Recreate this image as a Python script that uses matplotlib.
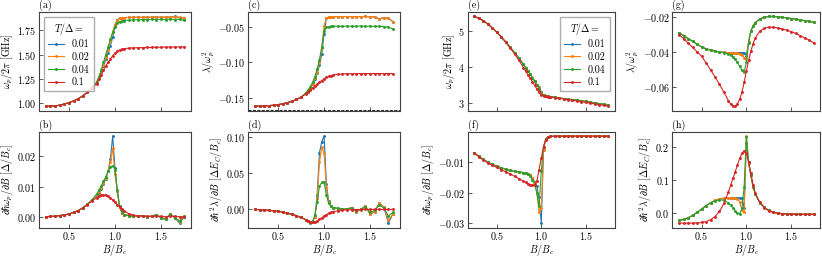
import numpy as np
import matplotlib
matplotlib.use("Agg")
import matplotlib.pyplot as plt

plt.rcParams["font.family"] = "serif"
plt.rcParams["font.serif"] = ["cmr10", "DejaVu Serif"]
plt.rcParams["mathtext.fontset"] = "cm"
plt.rcParams["axes.formatter.use_mathtext"] = True
plt.rcParams["font.size"] = 7.2

# magnetic field grid (denser around the transition)
B = [0.25, 0.30, 0.35, 0.40, 0.45, 0.50, 0.55, 0.60, 0.65, 0.70, 0.75, 0.80,
     0.825, 0.85, 0.875, 0.90, 0.925, 0.95, 0.975, 1.00, 1.025, 1.05, 1.075, 1.10,
     1.15, 1.20, 1.25, 1.30, 1.35, 1.40, 1.45, 1.50, 1.55, 1.60, 1.65, 1.70, 1.75]

temps = ["0.01", "0.02", "0.04", "0.1"]
colors = ["tab:blue", "tab:orange", "tab:green", "tab:red"]
lambda_limit = -0.1667

# (a) plasma frequency [GHz]
a01 = [0.965, 0.967, 0.970, 0.976, 0.988, 1.003, 1.020, 1.043, 1.072, 1.109, 1.155, 1.205,
       1.255, 1.315, 1.380, 1.450, 1.520, 1.590, 1.680, 1.800, 1.860, 1.875, 1.880, 1.882,
       1.884, 1.885, 1.886, 1.885, 1.887, 1.885, 1.889, 1.884, 1.888, 1.886, 1.894, 1.883, 1.877]
a02 = [0.965, 0.967, 0.970, 0.976, 0.988, 1.003, 1.020, 1.043, 1.072, 1.109, 1.155, 1.205,
       1.255, 1.320, 1.390, 1.470, 1.550, 1.640, 1.730, 1.810, 1.860, 1.875, 1.880, 1.882,
       1.884, 1.885, 1.886, 1.885, 1.887, 1.885, 1.889, 1.884, 1.888, 1.886, 1.893, 1.884, 1.878]
a04 = [0.965, 0.967, 0.970, 0.976, 0.988, 1.003, 1.020, 1.043, 1.072, 1.110, 1.158, 1.215,
       1.270, 1.340, 1.420, 1.500, 1.580, 1.660, 1.730, 1.790, 1.825, 1.840, 1.848, 1.852,
       1.856, 1.858, 1.860, 1.862, 1.861, 1.864, 1.862, 1.866, 1.862, 1.868, 1.862, 1.865, 1.853]
a10 = [0.965, 0.967, 0.970, 0.976, 0.988, 1.003, 1.020, 1.043, 1.072, 1.108, 1.152, 1.200,
       1.245, 1.290, 1.335, 1.380, 1.420, 1.455, 1.488, 1.515, 1.535, 1.548, 1.556, 1.561,
       1.566, 1.569, 1.571, 1.572, 1.573, 1.574, 1.575, 1.576, 1.577, 1.578, 1.578, 1.579, 1.580]

# (b) derivative of the plasma frequency
b01 = [0.0001, 0.0002, 0.0003, 0.0005, 0.0007, 0.0010, 0.0015, 0.0021, 0.0030, 0.0042, 0.0055, 0.0070,
       0.0080, 0.0093, 0.0108, 0.0125, 0.0150, 0.0190, 0.0265, 0.0160, 0.0085, 0.0033, 0.0014, 0.0008,
       0.0005, 0.0003, 0.0003, 0.0004, 0.0001, 0.0003, 0.0008, -0.0003, -0.0008, 0.0011, -0.0003, -0.0020, 0.0001]
b02 = [0.0001, 0.0002, 0.0003, 0.0005, 0.0007, 0.0010, 0.0015, 0.0021, 0.0030, 0.0042, 0.0055, 0.0070,
       0.0082, 0.0095, 0.0110, 0.0128, 0.0150, 0.0180, 0.0225, 0.0140, 0.0085, 0.0033, 0.0014, 0.0008,
       0.0005, 0.0003, 0.0003, 0.0004, 0.0001, 0.0003, 0.0008, -0.0003, -0.0007, 0.0010, -0.0003, -0.0015, 0.0002]
b04 = [0.0001, 0.0002, 0.0003, 0.0005, 0.0007, 0.0010, 0.0015, 0.0021, 0.0030, 0.0042, 0.0056, 0.0075,
       0.0088, 0.0102, 0.0117, 0.0132, 0.0150, 0.0165, 0.0168, 0.0155, 0.0090, 0.0035, 0.0015, 0.0008,
       0.0005, 0.0003, 0.0003, 0.0004, 0.0001, 0.0003, 0.0007, -0.0002, -0.0006, 0.0009, -0.0002, -0.0012, 0.0002]
b10 = [0.0001, 0.0002, 0.0003, 0.0005, 0.0007, 0.0010, 0.0015, 0.0021, 0.0030, 0.0041, 0.0053, 0.0063,
       0.0068, 0.0071, 0.0073, 0.0072, 0.0069, 0.0063, 0.0056, 0.0049, 0.0041, 0.0033, 0.0026, 0.0020,
       0.0011, 0.0006, 0.0004, 0.0003, 0.0003, 0.0002, 0.0003, 0.0002, 0.0001, 0.0003, 0.0002, 0.0001, 0.0001]

# (c) anharmonicity
c01 = [-0.1618, -0.1616, -0.1613, -0.1609, -0.1603, -0.1595, -0.1583, -0.1567, -0.1547, -0.1522, -0.1490, -0.1438,
       -0.1410, -0.1368, -0.1310, -0.1240, -0.1150, -0.1040, -0.0880, -0.0600, -0.0378, -0.0361, -0.0357, -0.0355,
       -0.0356, -0.0354, -0.0353, -0.0355, -0.0353, -0.0356, -0.0352, -0.0357, -0.0359, -0.0387, -0.0369, -0.0380, -0.0428]
c02 = [-0.1618, -0.1616, -0.1613, -0.1609, -0.1603, -0.1595, -0.1583, -0.1567, -0.1547, -0.1522, -0.1490, -0.1435,
       -0.1405, -0.1360, -0.1300, -0.1225, -0.1130, -0.1000, -0.0800, -0.0480, -0.0375, -0.0360, -0.0357, -0.0355,
       -0.0356, -0.0354, -0.0353, -0.0355, -0.0353, -0.0356, -0.0352, -0.0357, -0.0358, -0.0385, -0.0370, -0.0378, -0.0425]
c04 = [-0.1618, -0.1616, -0.1613, -0.1609, -0.1603, -0.1595, -0.1583, -0.1567, -0.1547, -0.1522, -0.1490, -0.1430,
       -0.1390, -0.1340, -0.1280, -0.1200, -0.1090, -0.0960, -0.0780, -0.0560, -0.0505, -0.0495, -0.0492, -0.0490,
       -0.0489, -0.0490, -0.0488, -0.0489, -0.0490, -0.0487, -0.0491, -0.0488, -0.0492, -0.0489, -0.0497, -0.0503, -0.0527]
c10 = [-0.1618, -0.1616, -0.1613, -0.1609, -0.1603, -0.1595, -0.1583, -0.1567, -0.1547, -0.1522, -0.1490, -0.1445,
       -0.1418, -0.1390, -0.1360, -0.1332, -0.1305, -0.1280, -0.1255, -0.1232, -0.1212, -0.1197, -0.1185, -0.1177,
       -0.1167, -0.1162, -0.1160, -0.1159, -0.1158, -0.1158, -0.1157, -0.1157, -0.1157, -0.1157, -0.1157, -0.1157, -0.1157]

# (d) derivative of the anharmonicity
d01 = [-0.0002, -0.0005, -0.0009, -0.0014, -0.0020, -0.0028, -0.0038, -0.0052, -0.0068, -0.0088, -0.0112, -0.0143,
       -0.0162, -0.0176, -0.0168, -0.0105, 0.0200, 0.0780, 0.0930, 0.1005, 0.0350, 0.0110, 0.0045, 0.0025,
       0.0010, 0.0000, 0.0005, 0.0025, -0.0030, -0.0005, 0.0050, -0.0070, -0.0030, 0.0090, 0.0030, -0.0190, -0.0060]
d02 = [-0.0002, -0.0005, -0.0009, -0.0014, -0.0020, -0.0028, -0.0038, -0.0052, -0.0068, -0.0088, -0.0112, -0.0143,
       -0.0162, -0.0176, -0.0168, -0.0100, 0.0150, 0.0650, 0.0850, 0.0780, 0.0300, 0.0100, 0.0045, 0.0025,
       0.0010, 0.0000, 0.0005, 0.0025, -0.0030, -0.0005, 0.0045, -0.0065, -0.0030, 0.0080, 0.0030, -0.0150, -0.0060]
d04 = [-0.0002, -0.0005, -0.0009, -0.0014, -0.0020, -0.0028, -0.0038, -0.0052, -0.0068, -0.0088, -0.0112, -0.0145,
       -0.0165, -0.0182, -0.0170, -0.0080, 0.0100, 0.0320, 0.0370, 0.0370, 0.0200, 0.0080, 0.0040, 0.0025,
       0.0015, 0.0005, 0.0005, 0.0020, -0.0020, 0.0000, 0.0035, -0.0040, -0.0015, 0.0055, 0.0020, -0.0090, -0.0040]
d10 = [-0.0002, -0.0005, -0.0009, -0.0014, -0.0020, -0.0028, -0.0038, -0.0052, -0.0068, -0.0088, -0.0112, -0.0140,
       -0.0158, -0.0172, -0.0178, -0.0172, -0.0158, -0.0138, -0.0115, -0.0092, -0.0072, -0.0055, -0.0043, -0.0033,
       -0.0019, -0.0011, -0.0007, -0.0004, -0.0003, -0.0002, -0.0001, -0.0001, -0.0001, -0.0001, -0.0001, -0.0001, -0.0001]

# (e) plasma frequency [GHz], second device
e01 = [5.41, 5.36, 5.29, 5.20, 5.09, 4.97, 4.84, 4.70, 4.55, 4.40, 4.24, 4.07,
       3.98, 3.89, 3.80, 3.70, 3.60, 3.50, 3.44, 3.30, 3.21, 3.188, 3.178, 3.168,
       3.147, 3.127, 3.112, 3.097, 3.082, 3.067, 3.047, 3.032, 3.012, 2.992, 2.972, 2.952, 2.932]
e02 = [5.41, 5.36, 5.29, 5.20, 5.09, 4.97, 4.84, 4.70, 4.55, 4.40, 4.24, 4.07,
       3.98, 3.89, 3.80, 3.70, 3.60, 3.50, 3.42, 3.27, 3.205, 3.187, 3.177, 3.167,
       3.147, 3.127, 3.112, 3.097, 3.082, 3.067, 3.047, 3.032, 3.012, 2.992, 2.972, 2.952, 2.932]
e04 = [5.41, 5.36, 5.29, 5.20, 5.09, 4.97, 4.84, 4.70, 4.55, 4.40, 4.24, 4.07,
       3.98, 3.89, 3.80, 3.70, 3.60, 3.49, 3.38, 3.25, 3.20, 3.185, 3.175, 3.165,
       3.145, 3.125, 3.11, 3.095, 3.08, 3.065, 3.045, 3.03, 3.01, 2.99, 2.97, 2.95, 2.93]
e10 = [5.41, 5.36, 5.29, 5.20, 5.09, 4.97, 4.84, 4.69, 4.53, 4.36, 4.18, 3.98,
       3.88, 3.78, 3.68, 3.58, 3.48, 3.38, 3.29, 3.22, 3.19, 3.175, 3.165, 3.155,
       3.14, 3.12, 3.10, 3.08, 3.06, 3.045, 3.025, 3.005, 2.985, 2.96, 2.94, 2.92, 2.895]

# (f)
f01 = [-0.0071, -0.0082, -0.0092, -0.0101, -0.0108, -0.0114, -0.0119, -0.0124, -0.0128, -0.0131, -0.0133, -0.0135,
       -0.0136, -0.0138, -0.0143, -0.0152, -0.0165, -0.0180, -0.0215, -0.0300, -0.0060, -0.0025, -0.0019, -0.0017,
       -0.0016, -0.0016, -0.0016, -0.0016, -0.0016, -0.0016, -0.0016, -0.0016, -0.0016, -0.0016, -0.0016, -0.0016, -0.0016]
f02 = [-0.0071, -0.0082, -0.0092, -0.0101, -0.0108, -0.0114, -0.0119, -0.0124, -0.0128, -0.0131, -0.0133, -0.0135,
       -0.0136, -0.0138, -0.0143, -0.0152, -0.0168, -0.0200, -0.0265, -0.0250, -0.0060, -0.0025, -0.0019, -0.0017,
       -0.0016, -0.0016, -0.0016, -0.0016, -0.0016, -0.0016, -0.0016, -0.0016, -0.0016, -0.0016, -0.0016, -0.0016, -0.0016]
f04 = [-0.0071, -0.0082, -0.0092, -0.0101, -0.0108, -0.0114, -0.0119, -0.0124, -0.0128, -0.0131, -0.0133, -0.0135,
       -0.0137, -0.0140, -0.0147, -0.0158, -0.0175, -0.0200, -0.0245, -0.0130, -0.0050, -0.0025, -0.0019, -0.0017,
       -0.0016, -0.0016, -0.0016, -0.0016, -0.0016, -0.0016, -0.0016, -0.0016, -0.0016, -0.0016, -0.0016, -0.0016, -0.0016]
f10 = [-0.0071, -0.0083, -0.0094, -0.0103, -0.0111, -0.0118, -0.0125, -0.0132, -0.0139, -0.0147, -0.0155, -0.0163,
       -0.0167, -0.0171, -0.0175, -0.0177, -0.0174, -0.0163, -0.0125, -0.0087, -0.0050, -0.0028, -0.0020, -0.0017,
       -0.0016, -0.0016, -0.0016, -0.0016, -0.0016, -0.0016, -0.0016, -0.0016, -0.0016, -0.0016, -0.0016, -0.0016, -0.0016]

# (g)
g01 = [-0.0290, -0.0305, -0.0322, -0.0338, -0.0355, -0.0370, -0.0381, -0.0389, -0.0395, -0.0399, -0.0402, -0.0403,
       -0.0403, -0.0403, -0.0403, -0.0403, -0.0403, -0.0404, -0.0405, -0.0420, -0.0340, -0.0278, -0.0249, -0.0230,
       -0.0210, -0.0199, -0.0195, -0.0195, -0.0197, -0.0200, -0.0203, -0.0207, -0.0211, -0.0215, -0.0219, -0.0223, -0.0228]
g02 = [-0.0290, -0.0305, -0.0322, -0.0338, -0.0355, -0.0370, -0.0381, -0.0389, -0.0395, -0.0399, -0.0402, -0.0404,
       -0.0405, -0.0406, -0.0407, -0.0408, -0.0410, -0.0415, -0.0432, -0.0440, -0.0340, -0.0278, -0.0249, -0.0230,
       -0.0210, -0.0199, -0.0195, -0.0195, -0.0197, -0.0200, -0.0203, -0.0207, -0.0211, -0.0215, -0.0219, -0.0223, -0.0228]
g04 = [-0.0290, -0.0305, -0.0322, -0.0338, -0.0355, -0.0370, -0.0381, -0.0389, -0.0395, -0.0399, -0.0403, -0.0410,
       -0.0418, -0.0428, -0.0442, -0.0460, -0.0482, -0.0505, -0.0515, -0.0460, -0.0345, -0.0280, -0.0250, -0.0230,
       -0.0210, -0.0199, -0.0195, -0.0195, -0.0197, -0.0200, -0.0203, -0.0207, -0.0211, -0.0215, -0.0219, -0.0223, -0.0228]
g10 = [-0.0299, -0.0323, -0.0348, -0.0373, -0.0398, -0.0423, -0.0462, -0.0502, -0.0543, -0.0585, -0.0632, -0.0680,
       -0.0700, -0.0712, -0.0712, -0.0697, -0.0672, -0.0632, -0.0575, -0.0510, -0.0448, -0.0395, -0.0352, -0.0318,
       -0.0280, -0.0263, -0.0257, -0.0257, -0.0261, -0.0267, -0.0274, -0.0282, -0.0293, -0.0305, -0.0318, -0.0332, -0.0347]

# (h)
h01 = [-0.0210, -0.0180, -0.0130, -0.0060, 0.0030, 0.0130, 0.0230, 0.0320, 0.0395, 0.0430, 0.0455, 0.0465,
       0.0467, 0.0467, 0.0466, 0.0465, 0.0463, 0.0460, 0.0150, 0.2100, 0.1500, 0.1150, 0.0800, 0.0580,
       0.0320, 0.0180, 0.0090, 0.0040, 0.0010, -0.0005, -0.0015, -0.0020, -0.0022, -0.0024, -0.0025, -0.0025, -0.0025]
h02 = [-0.0210, -0.0180, -0.0130, -0.0060, 0.0030, 0.0130, 0.0230, 0.0320, 0.0395, 0.0430, 0.0455, 0.0465,
       0.0465, 0.0462, 0.0455, 0.0430, 0.0350, 0.0100, 0.0040, 0.2320, 0.1500, 0.1150, 0.0800, 0.0580,
       0.0320, 0.0180, 0.0090, 0.0040, 0.0010, -0.0005, -0.0015, -0.0020, -0.0022, -0.0024, -0.0025, -0.0025, -0.0025]
h04 = [-0.0210, -0.0180, -0.0130, -0.0060, 0.0030, 0.0130, 0.0230, 0.0315, 0.0375, 0.0405, 0.0400, 0.0310,
       0.0250, 0.0170, 0.0080, 0.0000, -0.0010, 0.0150, 0.0800, 0.2300, 0.1550, 0.1150, 0.0800, 0.0580,
       0.0320, 0.0180, 0.0090, 0.0040, 0.0010, -0.0005, -0.0015, -0.0020, -0.0022, -0.0024, -0.0025, -0.0025, -0.0025]
h10 = [-0.0290, -0.0292, -0.0292, -0.0290, -0.0285, -0.0272, -0.0245, -0.0190, -0.0095, 0.0060, 0.0300, 0.0650,
       0.0850, 0.1050, 0.1250, 0.1450, 0.1650, 0.1800, 0.1880, 0.1820, 0.1550, 0.1200, 0.0850, 0.0600,
       0.0330, 0.0170, 0.0080, 0.0030, 0.0005, -0.0010, -0.0020, -0.0025, -0.0028, -0.0030, -0.0030, -0.0030, -0.0030]

ylab_w = r"$\omega_p/2\pi$ [GHz]"
ylab_dw = r"$\partial\hbar\omega_p/\partial B$ [$\Delta/B_c$]"
ylab_l = r"$\lambda/\omega_p^2$"
ylab_dl = r"$\partial\hbar^2\lambda/\partial B$ [$\Delta E_C/B_c$]"

panels = [
    ("(a)", [a01, a02, a04, a10], ylab_w, [1.00, 1.25, 1.50, 1.75]),
    ("(b)", [b01, b02, b04, b10], ylab_dw, [0.0, 0.01, 0.02]),
    ("(c)", [c01, c02, c04, c10], ylab_l, [-0.15, -0.10, -0.05]),
    ("(d)", [d01, d02, d04, d10], ylab_dl, [0.0, 0.05, 0.10]),
    ("(e)", [e01, e02, e04, e10], ylab_w, [3, 4, 5]),
    ("(f)", [f01, f02, f04, f10], ylab_dw, [-0.03, -0.02, -0.01]),
    ("(g)", [g01, g02, g04, g10], ylab_l, [-0.06, -0.04, -0.02]),
    ("(h)", [h01, h02, h04, h10], ylab_dl, [0.0, 0.1, 0.2]),
]

fig = plt.figure(figsize=(8.22, 2.6), dpi=100)
lefts = [0.0474, 0.302, 0.569, 0.818]
widths = [0.185, 0.1845, 0.179, 0.180]
rows = [(0.574, 0.380), (0.125, 0.368)]

axes = []
for k, (tag, series, ylab, yt) in enumerate(panels):
    col, row = k // 2, k % 2
    ax = fig.add_axes([lefts[col], rows[row][0], widths[col], rows[row][1]])
    for y, c, t in zip(series, colors, temps):
        ax.plot(B, y, ".-", color=c, lw=0.8, ms=2.2, label=t)
    ax.set_xticks([0.5, 1.0, 1.5])
    ax.set_yticks(yt)
    ax.set_ylabel(ylab, labelpad=1)
    if row == 0:
        ax.set_xticklabels([])
    else:
        ax.set_xlabel(r"$B/B_c$", labelpad=0)
    ax.tick_params(direction="in", length=3, width=0.6, color="0.25", pad=2)
    for s in ax.spines.values():
        s.set_color("0.25")
        s.set_linewidth(0.8)
    ax.text(0.0, 1.01, tag, transform=ax.transAxes, ha="left", va="bottom")
    axes.append(ax)

axes[2].axhline(lambda_limit, color="k", ls="--", lw=0.6)

for ax, loc in [(axes[0], "upper left"), (axes[4], "upper right")]:
    leg = ax.legend(loc=loc, title=r"$T/\Delta =$", fontsize=7.2, title_fontsize=7.2,
                    handlelength=1.6, borderpad=0.4, labelspacing=0.3, fancybox=False)
    leg.get_frame().set_edgecolor("0.6")

fig.savefig("out.png", dpi=100)
